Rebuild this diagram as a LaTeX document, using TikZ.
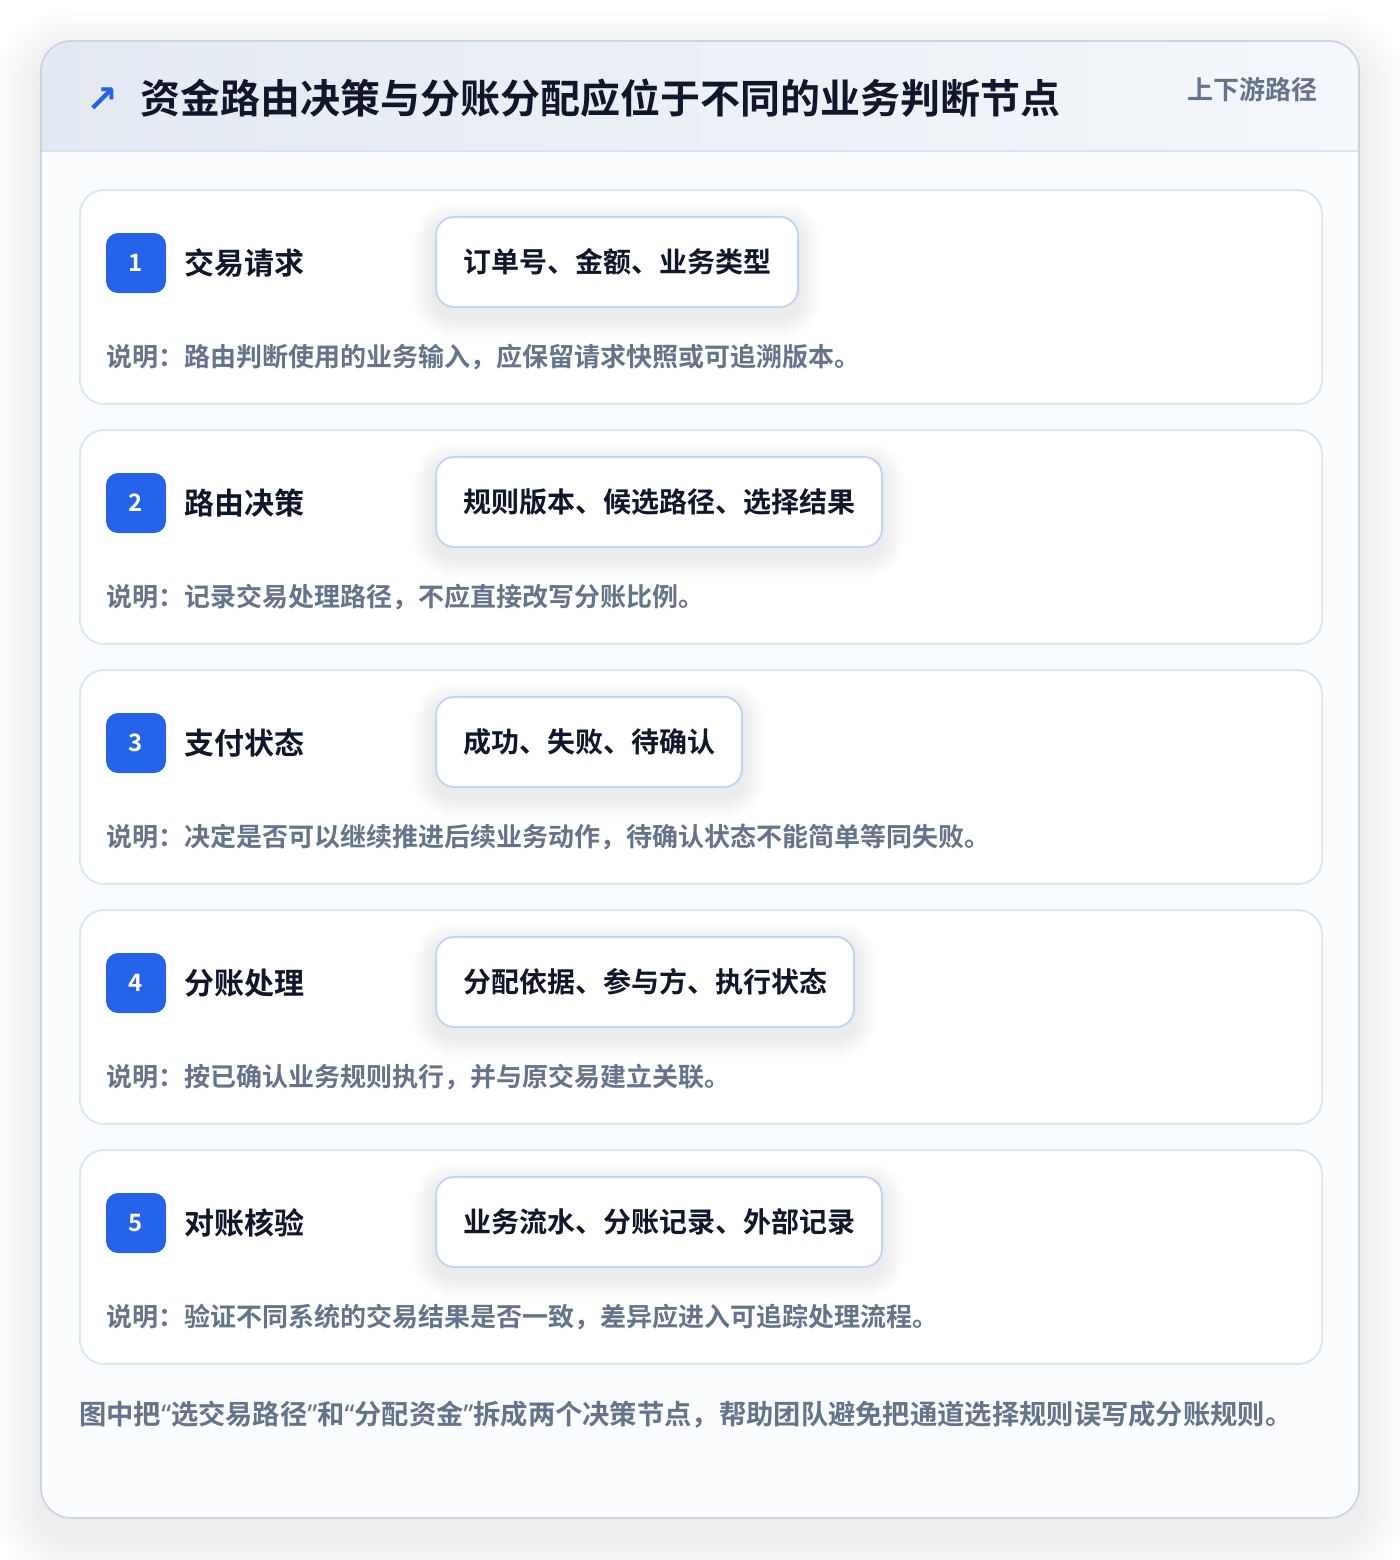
\documentclass[tikz,border=0pt]{standalone}
\usepackage{fontspec}
\setmainfont{Noto Sans CJK SC}[BoldFont={Noto Sans CJK SC Bold}]
\newfontfamily\symfont{DejaVu Sans}
\newfontfamily\latinfont{Noto Sans}
\newcommand{\openq}{{\latinfont\bfseries “}}
\newcommand{\closeq}{{\latinfont\bfseries ”}}
\definecolor{navy}{HTML}{0F172A}
\definecolor{slate}{HTML}{64748B}
\definecolor{accent}{HTML}{2563EB}
\definecolor{frameline}{HTML}{CBD5E1}
\definecolor{cardline}{HTML}{DBE7F6}
\definecolor{pillline}{HTML}{BFD6F3}
\definecolor{hdrL}{HTML}{E3E9F2}
\definecolor{hdrR}{HTML}{F4F7FB}
\definecolor{hdrline}{HTML}{D6E3F4}
\definecolor{bodyfill}{HTML}{FBFCFE}
\pgfdeclarelayer{back}
\pgfdeclarelayer{shade}
\pgfsetlayers{back,shade,main}
\tikzset{
  cardbox/.style={draw=cardline, line width=1pt, fill=white, rounded corners=12pt,
    minimum width=621pt, minimum height=107pt, anchor=north west, inner sep=0pt},
  badge/.style={fill=accent, text=white, rounded corners=6pt, minimum size=30pt, inner sep=0pt,
    font=\fontsize{12}{14}\selectfont\bfseries},
  lbl/.style={anchor=west, inner sep=0pt, text=navy, font=\fontsize{15}{18}\selectfont\bfseries},
  pill/.style={anchor=west, draw=pillline, line width=1pt, fill=white, rounded corners=9pt,
    minimum height=45pt, inner xsep=13.5pt, inner ysep=0pt, text=navy,
    font=\fontsize{14}{17}\selectfont\bfseries},
  desc/.style={anchor=west, inner sep=0pt, text=slate, font=\fontsize{13}{16}\selectfont\bfseries},
  softshade/.style={fill=black, opacity=#1},
}
\begin{document}
\begin{tikzpicture}[x=0.5pt,y=-0.5pt]
\useasboundingbox (0,0) rectangle (1400,1560);
\begin{pgfonlayer}{back}
\fill[white] (0,0) rectangle (1400,1560);
% outer frame shadow
\foreach \k in {1,...,18}{
  \pgfmathsetmacro{\e}{\k*2.6}
  \pgfmathsetmacro{\r}{15+\k*1.3}
  \fill[softshade=0.0045, rounded corners=\r pt] (41-\e,56-\e) rectangle (1359+\e,1536+\e);
}
% outer frame
\fill[bodyfill, rounded corners=15pt] (41,41) rectangle (1359,1518);
\begin{scope}
  \clip[rounded corners=15pt] (41,41) rectangle (1359,1518);
  \shade[left color=hdrL, right color=hdrR] (41,41) rectangle (1359,151);
  \draw[hdrline, line width=1pt] (41,151) -- (1359,151);
\end{scope}
\draw[frameline, line width=0.9pt, rounded corners=15pt] (41,41) rectangle (1359,1518);
\end{pgfonlayer}
% header
\node[text=accent, inner sep=0pt, font=\symfont\fontsize{19}{22}\selectfont\bfseries] (icon) at (102,100) {↗};
\node[anchor=west, inner sep=0pt, text=navy, font=\fontsize{20}{24}\selectfont\bfseries] (title) at (140,98) {资金路由决策与分账分配应位于不同的业务判断节点};
\node[anchor=east, inner sep=0pt, text=slate, font=\fontsize{13}{16}\selectfont\bfseries] (tag) at (1318,90) {上下游路径};
% cards
\foreach \i/\n/\lab/\pil/\des in {
  0/1/交易请求/订单号、金额、业务类型/说明：路由判断使用的业务输入，应保留请求快照或可追溯版本。,
  1/2/路由决策/规则版本、候选路径、选择结果/说明：记录交易处理路径，不应直接改写分账比例。,
  2/3/支付状态/成功、失败、待确认/说明：决定是否可以继续推进后续业务动作，待确认状态不能简单等同失败。,
  3/4/分账处理/分配依据、参与方、执行状态/说明：按已确认业务规则执行，并与原交易建立关联。,
  4/5/对账核验/业务流水、分账记录、外部记录/说明：验证不同系统的交易结果是否一致，差异应进入可追踪处理流程。}{
  \pgfmathsetmacro{\t}{189+240*\i}
  \begin{pgfonlayer}{back}
    \node[cardbox] (card\n) at (79,\t) {};
  \end{pgfonlayer}
  \node[badge] (badge\n) at (136,\t+74) {\n};
  \node[lbl] (label\n) at (184,\t+74) {\lab};
  \node[pill] (pill\n) at (435,\t+73) {\pil};
  \node[desc] (desc\n) at (106,\t+168) {\des};
  \begin{pgfonlayer}{shade}
    \foreach \k in {1,...,10}{
      \pgfmathsetmacro{\e}{\k*2.2}
      \pgfmathsetmacro{\r}{9+\k*1.1}
      \fill[softshade=0.006, rounded corners=\r pt]
        ([xshift=-\e*0.5pt, yshift=-\e*0.5pt-4pt]pill\n.south west) rectangle
        ([xshift=\e*0.5pt, yshift=\e*0.5pt-4pt]pill\n.north east);
    }
  \end{pgfonlayer}
}
% footnote
\node[anchor=west, inner sep=0pt, text=slate, font=\fontsize{13.65}{16}\selectfont\bfseries] (foot) at (79,1415) {图中把\openq 选交易路径\closeq 和\openq 分配资金\closeq 拆成两个决策节点，帮助团队避免把通道选择规则误写成分账规则。};
\end{tikzpicture}
\end{document}
